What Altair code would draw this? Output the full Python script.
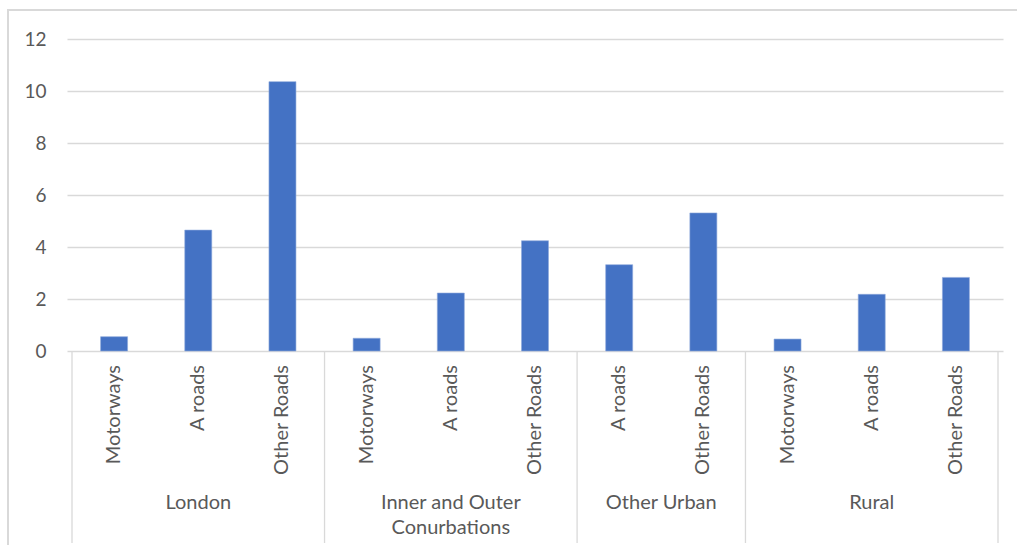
import altair as alt
import pandas as pd

# Casualty rates by area type and road class
regions = ["London", "London", "London",
           "Inner and Outer Conurbations", "Inner and Outer Conurbations", "Inner and Outer Conurbations",
           "Other Urban", "Other Urban",
           "Rural", "Rural", "Rural"]
road_types = ["Motorways", "A roads", "Other Roads",
              "Motorways", "A roads", "Other Roads",
              "A roads", "Other Roads",
              "Motorways", "A roads", "Other Roads"]
values = [0.55, 4.65, 10.36, 0.49, 2.23, 4.24, 3.32, 5.31, 0.46, 2.18, 2.83]

group_order = ["London", "Inner and Outer Conurbations", "Other Urban", "Rural"]
group_display = ["London", "Inner and Outer\nConurbations", "Other Urban", "Rural"]
y_ticks = [0, 2, 4, 6, 8, 10, 12]

FONT = "Lato"
TEXT = "#595959"
GRID = "#d9d9d9"
BAR = "#4472C4"

W, H = 936, 312

bars_df = pd.DataFrame({"region": regions, "road": road_types, "value": values})
bars_df["slot"] = range(len(bars_df))
bars_df["pos"] = bars_df["slot"] + 0.5

groups_df = (bars_df.groupby("region", sort=False)["slot"]
             .agg(["min", "max"]).reset_index())
groups_df["center"] = (groups_df["min"] + groups_df["max"] + 1) / 2
groups_df["label"] = [group_display[group_order.index(r)] for r in groups_df["region"]]

bounds = sorted(set(groups_df["min"].tolist() + (groups_df["max"] + 1).tolist()))
bounds_df = pd.DataFrame({"b": bounds})

n = len(bars_df)
xscale = alt.Scale(domain=[0, n], nice=False, zero=False)

base = alt.Chart(bars_df)

bars = base.mark_bar(width=27, color=BAR, stroke="#8fa9dc", strokeWidth=0.6).encode(
    x=alt.X("pos:Q", scale=xscale, axis=None),
    y=alt.Y("value:Q",
            scale=alt.Scale(domain=[0, 12], nice=False),
            axis=alt.Axis(values=y_ticks, title=None, domain=False, ticks=False,
                          grid=True, gridColor=GRID, gridWidth=1.3,
                          labelFont=FONT, labelFontSize=19, labelColor=TEXT,
                          labelPadding=21)),
)

road_labels = base.mark_text(angle=270, align="right", baseline="middle",
                             font=FONT, fontSize=20, color=TEXT).encode(
    x=alt.X("pos:Q", scale=xscale),
    y=alt.value(326),
    text="road:N",
)

group_labels = alt.Chart(groups_df).mark_text(align="center", baseline="alphabetic",
                                               lineBreak="\n", lineHeight=25,
                                               font=FONT, fontSize=20, color=TEXT).encode(
    x=alt.X("center:Q", scale=xscale),
    y=alt.value(470),
    text="label:N",
)

separators = alt.Chart(bounds_df).mark_rule(color=GRID, strokeWidth=1.3).encode(
    x=alt.X("b:Q", scale=xscale),
    y=alt.value(H),
    y2=alt.value(504),
)

frame = alt.Chart(pd.DataFrame({"k": [0]})).mark_rect(
    fill="transparent", stroke=GRID, strokeWidth=2).encode(
    x=alt.value(-59), x2=alt.value(W + 40),
    y=alt.value(-29), y2=alt.value(H + 260),
)

chart = alt.layer(frame, bars, separators, road_labels, group_labels).properties(
    width=W, height=H,
    autosize=alt.AutoSizeParams(type="none"),
    padding={"left": 67, "top": 39, "right": 14, "bottom": 194},
    background="white",
).configure_view(stroke=None)

chart.save("out.html", embed_options={"renderer": "svg", "actions": False})
